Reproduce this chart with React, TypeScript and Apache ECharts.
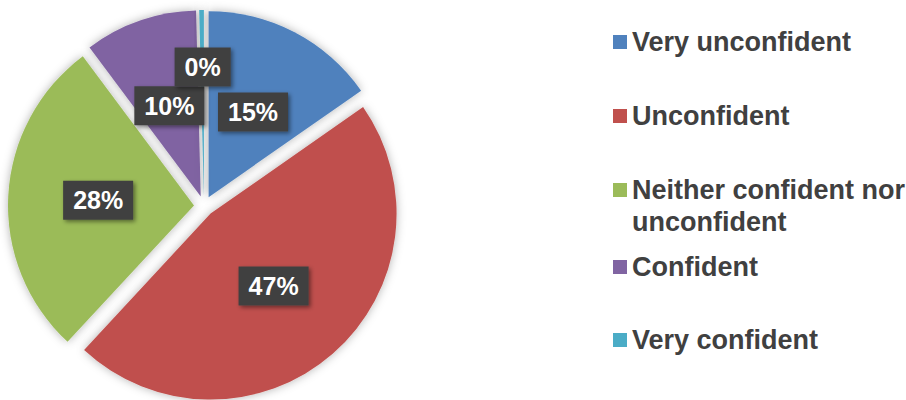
import React, { useEffect, useRef } from "react";
import * as echarts from "echarts";

const categories = [
  "Very unconfident",
  "Unconfident",
  "Neither confident nor unconfident",
  "Confident",
  "Very confident",
];
const values = [15.3, 46.6, 27.9, 9.8, 0.4];
const colors = ["#4F81BD", "#C0504D", "#9BBB59", "#8064A2", "#4BACC6"];
const legendTops = [26, 100, 142, 251, 324];

export default function App() {
  const ref = useRef<HTMLDivElement>(null);
  useEffect(() => {
    document.body.style.margin = "0";
    const chart = echarts.init(ref.current!, null, { renderer: "svg" });
    const legendText = {
      fontFamily: "Liberation Sans, Arial, sans-serif",
      fontWeight: "bold" as const,
      fontSize: 27,
      color: "#404040",
      lineHeight: 32,
    };
    const legends = categories.map((name, i) => ({
      data: [name],
      orient: "vertical" as const,
      left: 613,
      top: legendTops[i],
      padding: 0,
      icon: "rect",
      itemWidth: 14,
      itemHeight: 14,
      selectedMode: false,
      formatter: (n: string) =>
        n === "Neither confident nor unconfident" ? "\nNeither confident nor\nunconfident" : n,
      textStyle: { ...legendText },
    }));
    chart.setOption({
      animation: false,
      color: colors,
      legend: legends,
      series: [
        {
          type: "pie",
          center: [204, 206],
          radius: 186,
          startAngle: 90,
          clockwise: true,
          selectedMode: "multiple",
          selectedOffset: 10,
          avoidLabelOverlap: false,
          itemStyle: {
            shadowBlur: 10,
            shadowColor: "rgba(0,0,0,0.3)",
          },
          select: {
            itemStyle: {
              shadowBlur: 10,
              shadowColor: "rgba(0,0,0,0.3)",
            },
          },
          emphasis: { disabled: true },
          label: {
            show: true,
            position: "inside",
            formatter: (p: any) => `${Math.round(p.percent)}%`,
            fontFamily: "Liberation Sans, Arial, sans-serif",
            fontWeight: "bold",
            fontSize: 25,
            lineHeight: 29,
            color: "#ffffff",
            backgroundColor: "#404040",
            padding: [5, 10],
            shadowBlur: 4,
            shadowOffsetX: 2,
            shadowOffsetY: 2,
            shadowColor: "rgba(0,0,0,0.45)",
          },
          labelLine: { show: false },
          labelLayout: (p: any) => (p.dataIndex === 4 ? { dy: -33 } : {}),
          data: categories.map((name, i) => ({
            name,
            value: values[i],
            selected: true,
          })),
        },
      ],
    });
    return () => chart.dispose();
  }, []);
  return <div ref={ref} style={{ width: 906, height: 400 }} />;
}
